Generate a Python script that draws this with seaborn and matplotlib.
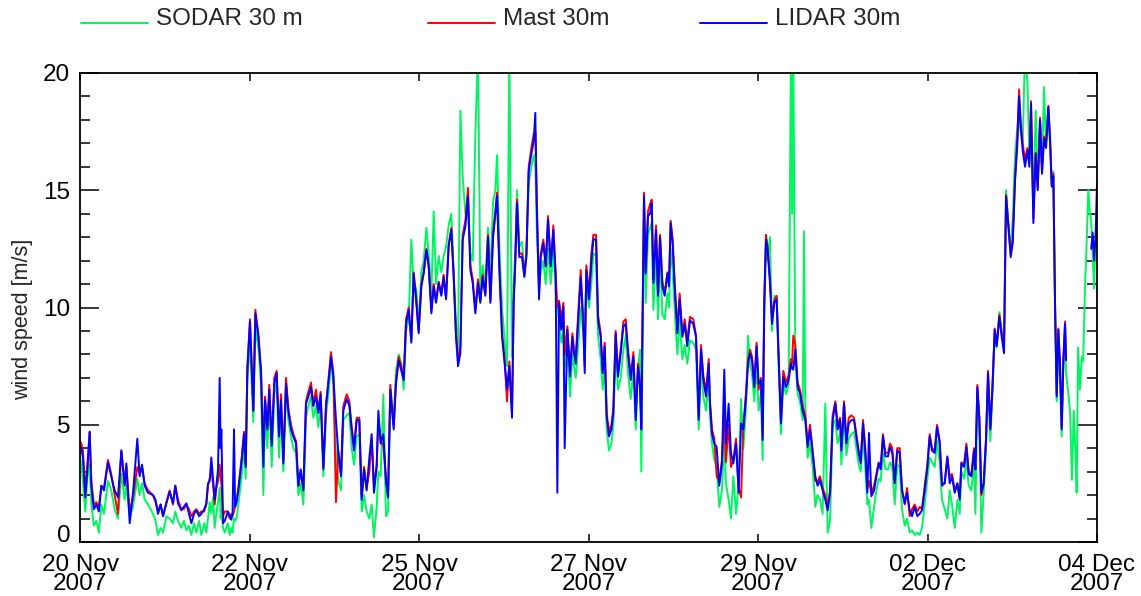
import numpy as np
import pandas as pd
import matplotlib
matplotlib.use("Agg")
import matplotlib.pyplot as plt
import seaborn as sns
from matplotlib.lines import Line2D
from matplotlib.ticker import MultipleLocator

nan = float("nan")

# time in days since 20 Nov 2007 00:00
days = [
    0.000, 0.018, 0.040, 0.073, 0.100, 0.133, 0.156, 0.190, 0.225, 0.260,
    0.294, 0.330, 0.385, 0.430, 0.477, 0.523, 0.569, 0.615, 0.638, 0.684,
    0.730, 0.789, 0.821, 0.854, 0.890, 0.936, 1.005, 1.040, 1.074, 1.110,
    1.143, 1.189, 1.234, 1.280, 1.312, 1.349, 1.395, 1.430, 1.464, 1.500,
    1.533, 1.570, 1.601, 1.640, 1.670, 1.710, 1.739, 1.762, 1.785, 1.808,
    1.831, 1.854, 1.877, 1.900, 1.923, 1.935, 1.946, 1.969, 1.992, 2.037,
    2.060, 2.083, 2.100, 2.120, 2.135, 2.152,
    2.180, 2.226, 2.258, 2.281, 2.304, 2.340, 2.386, 2.414, 2.455, 2.492,
    2.524, 2.547, 2.579, 2.606, 2.639, 2.675, 2.707, 2.740, 2.767, 2.799,
    2.836, 2.868, 2.905, 2.937, 2.974, 3.006, 3.038, 3.075, 3.111, 3.143,
    3.180, 3.212, 3.249, 3.281, 3.313, 3.350, 3.387, 3.419, 3.455, 3.488,
    3.524, 3.556, 3.593, 3.625, 3.671, 3.708, 3.740, 3.772, 3.809, 3.845,
    3.878, 3.910, 3.946, 3.983, 4.015, 4.047, 4.084, 4.107, 4.139, 4.176,
    4.212, 4.240, 4.272,
    4.318, 4.350, 4.387, 4.424, 4.456, 4.488, 4.525, 4.561, 4.593, 4.630,
    4.662, 4.699, 4.731, 4.768, 4.800, 4.837, 4.869, 4.901, 4.938, 4.974,
    5.006, 5.039, 5.075, 5.112, 5.144, 5.176, 5.204, 5.236, 5.268, 5.305,
    5.341, 5.374, 5.406, 5.442, 5.479, 5.511, 5.543, 5.580, 5.617, 5.649,
    5.686, 5.718, 5.741, 5.773, 5.810, 5.846, 5.878, 5.910, 5.947, 5.970,
    5.993, 6.016, 6.048, 6.085, 6.117, 6.145, 6.177, 6.213, 6.246, 6.268,
    6.287, 6.319, 6.342, 6.378, 6.411, 6.443, 6.480, 6.516, 6.548, 6.571,
    6.594, 6.626, 6.654, 6.672, 6.709, 6.746, 6.778, 6.801, 6.824, 6.856,
    6.893, 6.925, 6.948, 6.970, 7.007, 7.039, 7.067, 7.104, 7.131, 7.168,
    7.195, 7.223, 7.250, 7.282, 7.315, 7.342, 7.374, 7.406, 7.443, 7.480,
    7.512, 7.544, 7.581, 7.618, 7.650, 7.682, 7.709, 7.727, 7.764, 7.787,
    7.819, 7.847, 7.870, 7.893, 7.930, 7.957, 7.985, 8.017, 8.049, 8.086,
    8.108, 8.131, 8.158, 8.186, 8.223, 8.255, 8.292, 8.324, 8.360, 8.397,
    8.443, 8.480, 8.517, 8.549, 8.581, 8.618, 8.655, 8.672, 8.700, 8.732,
    8.764, 8.800, 8.837, 8.869, 8.892, 8.929, 8.961, 8.994, 9.031, 9.067,
    9.100, 9.132, 9.169, 9.196, 9.224, 9.251, 9.282, 9.314, 9.342, 9.374,
    9.397, 9.420, 9.443, 9.466, 9.498, 9.526, 9.558, 9.590, 9.617, 9.649,
    9.682, 9.718, 9.755, 9.787, 9.803, 9.819, 9.847, 9.879, 9.911, 9.948,
    9.966, 9.984, 10.017, 10.049, 10.086, 10.122, 10.154, 10.187, 10.223, 10.260,
    10.292, 10.325, 10.361, 10.398, 10.430, 10.463,
    10.481, 10.518, 10.550, 10.582, 10.619, 10.655, 10.687, 10.719, 10.747, 10.779,
    10.811, 10.839, 10.861, 10.894, 10.931, 10.963, 10.995, 11.022, 11.054, 11.086,
    11.123, 11.151, 11.182, 11.215, 11.251, 11.284, 11.315, 11.353, 11.385, 11.421,
    11.454, 11.490, 11.527, 11.559, 11.591, 11.628, 11.665, 11.697, 11.729, 11.766,
    11.798, 11.835, 11.866, 11.903, 11.940, 11.972, 12.004, 12.041, 12.078, 12.110,
    12.133, 12.170, 12.202, 12.234, 12.271, 12.307, 12.326, 12.353, 12.381, 12.408,
    12.440, 12.472, 12.500, 12.532, 12.560, 12.592, 12.619,
    12.656, 12.688, 12.720, 12.748, 12.780, 12.812, 12.840, 12.872, 12.904, 12.927,
    12.950, 12.977, 13.009, 13.042, 13.069, 13.092, 13.124, 13.156, 13.184, 13.216,
    13.243, 13.271, 13.298, 13.330, 13.353, 13.377, 13.399, 13.422, 13.445, 13.468,
    13.491, 13.514, 13.537, 13.560, 13.574, 13.600, 13.630, 13.655, 13.680, 13.700,
    13.720, 13.740, 13.765, 13.790, 13.810, 13.835, 13.860, 13.880, 13.900, 13.920,
    13.940, 13.960, 13.980, 14.000,
]

lidar = [
    4.1, 4.0, 3.6, 1.9, 3.0, 4.7, 2.4, 1.4, 1.6, 1.3,
    2.4, 2.2, 3.4, 2.8, 2.2, 1.9, 3.9, 2.4, 3.35, 0.8,
    2.1, 4.4, 2.8, 3.3, 2.4, 2.1, 2.0, 1.8, 1.2, 1.6,
    1.1, 1.65, 2.15, 1.65, 2.4, 1.65, 1.35, 1.5, 1.65, 1.2,
    0.8, 1.2, 1.35, 1.1, 1.2, 1.4, 1.65, 2.5, 2.6, 3.6,
    2.7, 1.8, 2.4, 3.1, 7.0, 4.0, 4.8, 0.8, 0.9, 1.3,
    1.1, 0.95, 1.2, 4.8, 1.5, 1.65,
    2.2, 3.5, 4.6, 3.2, 7.3, 9.4, 5.6, 9.75, 8.75, 7.3,
    3.2, 6.05, 4.8, 6.5, 4.1, 6.75, 7.2, 4.5, 6.05, 3.35,
    6.75, 5.6, 4.8, 4.5, 4.2, 2.4, 3.1, 2.2, 5.9, 6.2,
    6.6, 5.8, 6.2, 5.5, 6.3, 3.1, 5.8, 6.75, 7.9, 7.05,
    5.2, 3.8, 2.8, 5.6, 6.1, 5.8, 4.8, 3.9, 5.2, 5.2,
    1.8, 3.1, 2.2, 3.6, 4.6, 2.1, 3.2, 5.6, 4.2, 4.6,
    2.6, 1.9, 6.5,
    4.8, 6.75, 7.75, 7.3, 6.9, 9.3, 9.9, 8.5, 11.45, 10.2,
    8.9, 10.9, 11.45, 12.45, 11.75, 9.75, 10.9, 10.2, 11.05, 10.5,
    11.3, 10.35, 12.6, 13.3, 11.3, 8.75, 7.5, 8.05, 12.9, 13.45,
    14.75, 11.6, 11.05, 9.75, 11.05, 10.2, 11.3, 10.5, 13.0, 10.2,
    13.0, 14.0, 14.75, 11.6, 8.75, 7.6, 6.5, 7.5, 5.3, 10.2,
    12.0, 14.45, 12.15, 12.15, 11.3, 12.15, 15.85, 16.55, 17.1, 18.3,
    14.45, 10.35, 12.15, 12.75, 11.75, 13.75, 11.75, 13.3, 11.3, 2.1,
    10.2, 9.05, 10.05, 4.0, 9.05, 7.05, 8.75, 8.05, 7.6, 9.3,
    11.3, 9.45, 7.2, 11.6, 10.35, 11.9, 12.9, 12.9, 9.45, 8.75,
    7.2, 8.35, 5.35, 4.5, 4.8, 5.5, 8.9, 7.05, 8.05, 9.2,
    9.3, 8.05, 6.9, 7.9, 5.2, 7.5, 6.6, 4.8, 14.75, 11.45,
    13.9, 14.0, 14.45, 11.05, 13.3, 10.5, 13.0, 10.9, 10.5, 11.45,
    10.9, 13.6, 12.75, 10.9, 8.9, 10.35, 8.75, 9.3, 8.35, 9.45,
    9.3, 8.75, 5.2, 8.2, 6.9, 6.2, 7.6, 5.9, 4.6, 4.2,
    4.05, 2.4, 3.35, 7.35, 4.2, 5.9, 3.8, 3.35, 4.2, 2.1,
    5.05, 4.8, 6.2, 7.6, 8.05, 7.75, 6.6, 8.35, 6.75, 6.9,
    4.35, 10.2, 12.9, 12.45, 11.05, 9.3, 10.2, 10.35, 7.9, 5.05,
    7.05, 6.6, 6.9, 7.6, 7.4, 7.35, 8.2, 6.6, 6.35, 5.6,
    5.4, 5.2, 4.05, 4.8, 3.8, 2.8, 2.4, 2.65, 2.2, 1.8,
    1.35, 2.1, 5.2, 5.9, 4.8, 5.2,
    3.9, 5.9, 4.2, 5.05, 5.2, 5.2, 4.5, 3.8, 3.35, 5.05,
    3.8, 2.1, 4.65, 1.95, 2.2, 2.8, 3.35, 3.1, 4.5, 3.65,
    3.65, 4.05, 3.8, 2.5, 3.9, 3.8, 2.2, 1.65, 2.1, 1.35,
    1.1, 1.5, 1.1, 1.2, 1.35, 2.2, 3.2, 4.5, 3.9, 3.8,
    4.9, 4.2, 2.4, 2.5, 3.65, 2.5, 2.8, 2.1, 2.5, 1.8,
    3.35, 3.2, 4.05, 2.9, 2.8, 3.9, 3.1, 6.6, 5.2, 2.1,
    2.5, 4.35, 7.2, 4.8, 6.5, 9.05, 8.35,
    9.6, 8.75, 8.05, 14.75, 13.45, 12.15, 12.75, 15.45, 17.0, 19.0,
    17.7, 16.7, 16.0, 16.7, 16.0, 18.7, 13.6, 16.55, 15.0, 18.0,
    15.7, 17.2, 16.8, 18.55, 17.2, 15.15, 15.6, 10.2, 6.2, 9.05,
    7.5, 4.8, 7.75, 9.3, 7.75, nan, nan, nan, nan, nan,
    nan, nan, nan, nan, nan, nan, nan, nan, nan, 12.5,
    13.2, 12.0, 13.0, 15.3,
]

mast = [
    4.3, 4.2, 3.9, 2.2, 3.2, 4.7, 2.6, 1.6, 1.7, 1.5,
    2.4, 2.3, 3.5, 2.9, 2.0, 1.2, 3.9, 2.5, 3.2, 1.3,
    1.9, 3.2, 2.9, 3.2, 2.5, 2.2, 2.0, 1.7, 1.3, 1.6,
    1.1, 1.7, 2.2, 1.6, 2.4, 1.8, 1.4, 1.4, 1.6, 1.4,
    1.1, 1.3, 1.4, 1.2, 1.3, 1.3, 1.6, 2.4, 2.7, 3.0,
    2.5, 1.6, 2.3, 2.6, 3.3, 2.8, 2.5, 1.1, 1.3, 1.3,
    1.0, 1.2, 1.1, 1.3, 1.5, 1.7,
    2.3, 3.6, 4.7, 3.3, 7.5, 9.5, 5.6, 9.9, 8.9, 7.3,
    3.9, 6.2, 4.9, 6.7, 4.2, 7.0, 7.3, 4.6, 6.3, 3.5,
    7.0, 5.7, 5.0, 4.6, 4.3, 2.4, 3.0, 2.3, 6.0, 6.4,
    6.8, 5.9, 6.5, 5.6, 6.4, 3.2, 5.9, 6.9, 8.1, 7.2,
    1.7, 3.9, 2.9, 5.8, 6.3, 6.0, 4.9, 4.1, 5.3, 5.3,
    1.9, 3.2, 2.3, 3.0, 4.4, 2.4, 3.3, 5.2, 4.3, 4.1,
    2.7, 2.0, 6.7,
    5.0, 6.9, 7.9, 7.5, 7.0, 9.5, 10.0, 8.6, 11.5, 10.3,
    9.0, 11.0, 11.5, 12.5, 11.8, 9.9, 11.0, 10.3, 11.1, 10.6,
    11.4, 10.4, 12.7, 13.4, 11.4, 8.9, 7.8, 8.3, 13.1, 13.7,
    15.1, 11.8, 11.2, 9.9, 11.2, 10.3, 11.4, 10.6, 13.1, 10.3,
    13.1, 14.1, 14.9, 11.8, 8.9, 7.8, 6.0, 7.7, 5.5, 10.3,
    12.1, 14.6, 12.3, 12.3, 11.4, 12.3, 16.0, 16.8, 17.4, 17.5,
    14.8, 10.6, 12.3, 12.9, 11.8, 13.9, 11.8, 13.5, 11.5, 10.0,
    10.3, 9.5, 10.2, 8.0, 9.2, 7.3, 8.9, 8.2, 7.9, 9.6,
    11.6, 9.6, 7.5, 11.8, 10.6, 12.3, 13.1, 13.1, 9.7, 8.9,
    7.3, 8.5, 5.5, 4.7, 5.0, 5.7, 9.0, 7.2, 8.2, 9.4,
    9.5, 8.2, 7.1, 8.1, 5.5, 7.6, 6.8, 5.0, 14.9, 11.6,
    14.1, 14.4, 14.6, 11.2, 13.5, 10.6, 13.1, 11.1, 10.6, 11.5,
    11.1, 13.7, 12.9, 11.1, 9.1, 10.6, 8.9, 9.5, 8.6, 9.6,
    9.5, 8.8, 5.4, 8.4, 7.1, 6.4, 7.8, 6.0, 4.8, 4.4,
    2.8, 2.6, 3.5, 5.5, 3.4, 5.0, 3.2, 3.5, 4.4, 2.3,
    1.9, 5.0, 6.4, 7.8, 8.2, 7.9, 6.8, 8.5, 6.5, 7.0,
    4.5, 10.4, 13.1, 12.6, 11.2, 9.5, 10.3, 10.5, 8.0, 5.2,
    7.3, 6.8, 7.1, 7.8, 7.6, 8.8, 8.4, 6.8, 6.5, 5.8,
    5.6, 5.4, 4.2, 5.0, 3.9, 2.6, 2.6, 2.8, 2.3, 2.0,
    1.5, 2.2, 5.4, 6.0, 5.0, 5.3,
    4.1, 6.0, 4.3, 5.3, 5.4, 5.3, 4.6, 3.9, 3.5, 5.2,
    4.0, 2.3, 2.6, 2.1, 2.4, 2.9, 3.4, 3.2, 4.6, 3.8,
    3.8, 4.2, 4.0, 2.6, 4.0, 4.0, 2.3, 1.6, 2.3, 1.1,
    1.4, 1.6, 1.3, 1.5, 1.4, 2.4, 3.3, 4.6, 4.0, 3.9,
    5.0, 4.3, 2.5, 2.5, 3.6, 2.8, 2.9, 2.2, 2.5, 1.9,
    3.4, 3.3, 4.2, 3.0, 2.9, 4.0, 3.1, 6.7, 5.3, 2.0,
    2.5, 4.4, 7.3, 4.9, 6.6, 9.1, 8.4,
    9.7, 8.9, 8.3, 14.8, 13.6, 12.3, 12.9, 15.5, 17.3, 19.3,
    17.9, 17.0, 16.3, 16.8, 16.2, 18.8, 13.8, 16.6, 15.1, 18.1,
    15.8, 17.3, 16.9, 18.6, 17.3, 15.2, 15.7, 10.3, 6.3, 9.1,
    7.6, 4.9, 7.8, 9.4, 7.8, nan, nan, nan, nan, nan,
    nan, nan, nan, nan, nan, nan, nan, nan, nan, nan,
    nan, nan, nan, nan,
]

sodar = [
    3.6, 3.3, 2.6, 1.3, 2.7, 3.3, 1.6, 0.7, 0.9, 0.4,
    1.6, 1.2, 2.6, 2.2, 1.4, 1.0, 2.9, 1.8, 2.4, 1.1,
    1.5, 2.7, 2.0, 2.5, 1.8, 1.6, 1.2, 0.9, 0.3, 0.6,
    0.4, 1.1, 1.0, 0.8, 1.3, 0.9, 0.6, 0.9, 0.5, 0.7,
    0.3, 0.8, 0.4, 0.9, 0.3, 0.8, 0.4, 1.0, 1.7, 1.2,
    1.9, 0.6, 1.2, 1.7, 2.3, 1.0, 1.4, 0.6, 0.4, 0.8,
    0.3, 0.6, 0.4, 1.0, 0.9, 1.0,
    1.6, 2.8, 4.2, 2.7, 7.0, 8.5, 5.1, 9.1, 8.3, 6.7,
    2.0, 5.5, 4.0, 6.2, 3.2, 6.3, 6.8, 3.6, 5.7, 3.0,
    6.5, 5.2, 4.5, 4.0, 3.8, 2.0, 2.5, 1.6, 5.3, 5.8,
    6.2, 5.3, 5.8, 4.9, 5.9, 2.8, 5.4, 6.3, 7.6, 6.7,
    3.8, 2.6, 2.2, 5.2, 5.4, 5.5, 4.0, 3.3, 4.5, 4.6,
    1.3, 2.0, 1.3, 1.0, 1.6, 0.2, 1.5, 3.0, 2.8, 6.3,
    1.1, 1.3, 5.8,
    5.3, 7.3, 8.0, 7.6, 6.5, 9.0, 9.5, 12.9, 11.0, 10.8,
    9.2, 11.5, 12.0, 13.4, 12.3, 10.6, 14.1, 11.0, 12.2, 11.5,
    12.2, 12.6, 13.5, 14.0, 11.5, 9.3, 8.2, 18.4, 15.6, 14.0,
    14.0, 12.3, 12.0, 17.3, 21.0, 10.6, 11.8, 11.0, 13.4, 11.2,
    14.5, 15.0, 16.5, 12.6, 10.0, 8.6, 7.5, 21.0, 7.9, 11.0,
    12.5, 15.0, 12.6, 12.8, 11.5, 12.3, 15.3, 16.0, 16.5, 16.0,
    13.5, 11.0, 11.5, 12.0, 11.0, 12.5, 11.0, 12.5, 10.8, 9.9,
    9.5, 8.5, 9.0, 7.5, 8.5, 6.2, 8.0, 7.5, 7.0, 8.3,
    10.0, 9.0, 9.5, 11.0, 10.0, 11.0, 12.3, 12.2, 8.8, 7.8,
    6.5, 7.5, 4.8, 3.9, 4.2, 5.0, 8.4, 6.5, 7.0, 8.2,
    8.8, 7.2, 6.1, 7.3, 4.8, 7.4, 8.2, 3.0, 14.4, 10.2,
    13.1, 13.4, 13.6, 9.9, 12.4, 9.5, 12.3, 9.7, 9.5, 10.6,
    10.0, 12.5, 11.6, 9.9, 8.0, 9.5, 7.8, 8.4, 7.6, 8.6,
    8.5, 8.2, 4.8, 7.5, 6.2, 5.6, 7.0, 5.4, 4.2, 3.5,
    3.2, 1.5, 2.2, 4.5, 2.5, 1.8, 1.0, 2.8, 1.2, 2.5,
    6.1, 4.0, 5.8, 8.8, 7.5, 7.2, 6.0, 7.6, 5.6, 6.4,
    3.5, 9.8, 12.5, 12.0, 13.0, 9.0, 10.5, 10.4, 7.5, 4.6,
    6.8, 6.3, 6.7, 21.0, 14.0, 21.0, 7.8, 6.3, 6.0, 5.2,
    13.25, 5.8, 3.6, 4.2, 3.2, 1.5, 2.0, 1.8, 1.2, 5.9,
    0.4, 0.9, 5.0, 5.2, 4.2, 4.6,
    3.3, 5.4, 3.7, 4.4, 4.6, 4.7, 4.0, 3.3, 3.0, 4.5,
    3.1, 1.6, 1.8, 0.6, 1.5, 2.2, 2.7, 2.6, 3.8, 3.1,
    3.1, 3.4, 3.2, 1.6, 3.3, 3.2, 1.4, 0.7, 1.0, 0.4,
    0.5, 0.3, 0.4, 0.3, 0.6, 1.6, 2.7, 3.6, 3.4, 3.2,
    4.3, 3.4, 1.8, 1.4, 1.0, 2.2, 1.6, 0.6, 1.8, 1.2,
    3.0, 2.7, 3.5, 2.4, 2.2, 3.4, 1.2, 6.3, 4.8, 0.4,
    2.1, 4.0, 6.8, 4.3, 6.4, 8.8, 8.3,
    9.8, 9.0, 8.6, 15.0, 13.5, 12.4, 13.8, 16.5, 17.7, 18.5,
    17.5, 17.0, 21.0, 19.6, 16.4, 17.5, 14.5, 18.4, 15.5, 17.8,
    16.0, 19.4, 17.0, 18.0, 17.0, 15.3, 15.8, 10.0, 6.0, 8.5,
    7.0, 4.5, 7.6, 9.0, 7.2, 6.5, 5.5, 2.65, 5.6, 4.0,
    2.1, 8.3, 6.5, 7.9, 7.7, 10.9, 13.0, 15.0, 14.1, 13.7,
    12.3, 10.8, 13.0, 12.5,
]

tick_labels = ["20 Nov\n2007", "22 Nov\n2007", "25 Nov\n2007", "27 Nov\n2007",
               "29 Nov\n2007", "02 Dec\n2007", "04 Dec\n2007"]
series_names = ["SODAR 30 m", "Mast 30m", "LIDAR 30m"]
series_colors = ["#00f560", "#ff0000", "#0000ff"]

sns.set_theme(style="ticks")
plt.rcParams["font.family"] = ["Liberation Sans", "DejaVu Sans"]
FS = 17.5

fig = plt.figure(figsize=(11.41, 5.96), dpi=100)
ax = fig.add_axes([80 / 1141, 1 - 542 / 596, 1017 / 1141, 469 / 596])


def segments(vals):
    df = pd.DataFrame({"day": days, "speed": vals})
    df["seg"] = df["speed"].isna().cumsum()
    return df.dropna()


for name, vals, col in zip(series_names, [sodar, mast, lidar], series_colors):
    sns.lineplot(data=segments(vals), x="day", y="speed", units="seg",
                 estimator=None, sort=False, color=col, lw=1.4, ax=ax,
                 legend=False)

ax.set_xlim(0, 14)
ax.set_ylim(0, 20)
ax.set_xticks(np.linspace(0, 14, 7))
ax.set_xticklabels(tick_labels, fontsize=FS, linespacing=0.82)
ax.yaxis.set_major_locator(MultipleLocator(5))
ax.yaxis.set_minor_locator(MultipleLocator(1))
ax.set_yticks([0, 5, 10, 15, 20])
ax.set_yticklabels(["0", "5", "10", "15", "20"], fontsize=FS)
ax.get_yticklabels()[0].set_verticalalignment("baseline")
ax.tick_params(axis="y", which="major", direction="in", length=14, width=1.1,
               left=True, right=True, colors="black", pad=7)
ax.tick_params(axis="y", which="minor", direction="in", length=7, width=1.1,
               left=True, right=True, colors="black")
ax.tick_params(axis="x", which="major", direction="in", length=6, width=1.1,
               top=True, bottom=True, colors="black", pad=8.5)
for s in ax.spines.values():
    s.set_linewidth(1.3)
    s.set_color("black")
ax.set_xlabel("")
ax.set_ylabel("wind speed [m/s]", fontsize=15.5)
ax.yaxis.set_label_coords(-0.046, 0.475)

legend_x = [81, 428, 700]
for name, col, lx in zip(series_names, series_colors, legend_x):
    leg = fig.legend(handles=[Line2D([], [], color=col, lw=1.4)], labels=[name],
                     loc="center left", bbox_to_anchor=(lx / 1141, 1 - 19 / 596),
                     frameon=False, fontsize=FS, handlelength=2.75,
                     handletextpad=0.35, borderpad=0, borderaxespad=0)
    for ln in leg.get_lines():
        ln.set_ydata([y - 4.5 for y in ln.get_ydata()])

fig.savefig("out.png", dpi=100)
